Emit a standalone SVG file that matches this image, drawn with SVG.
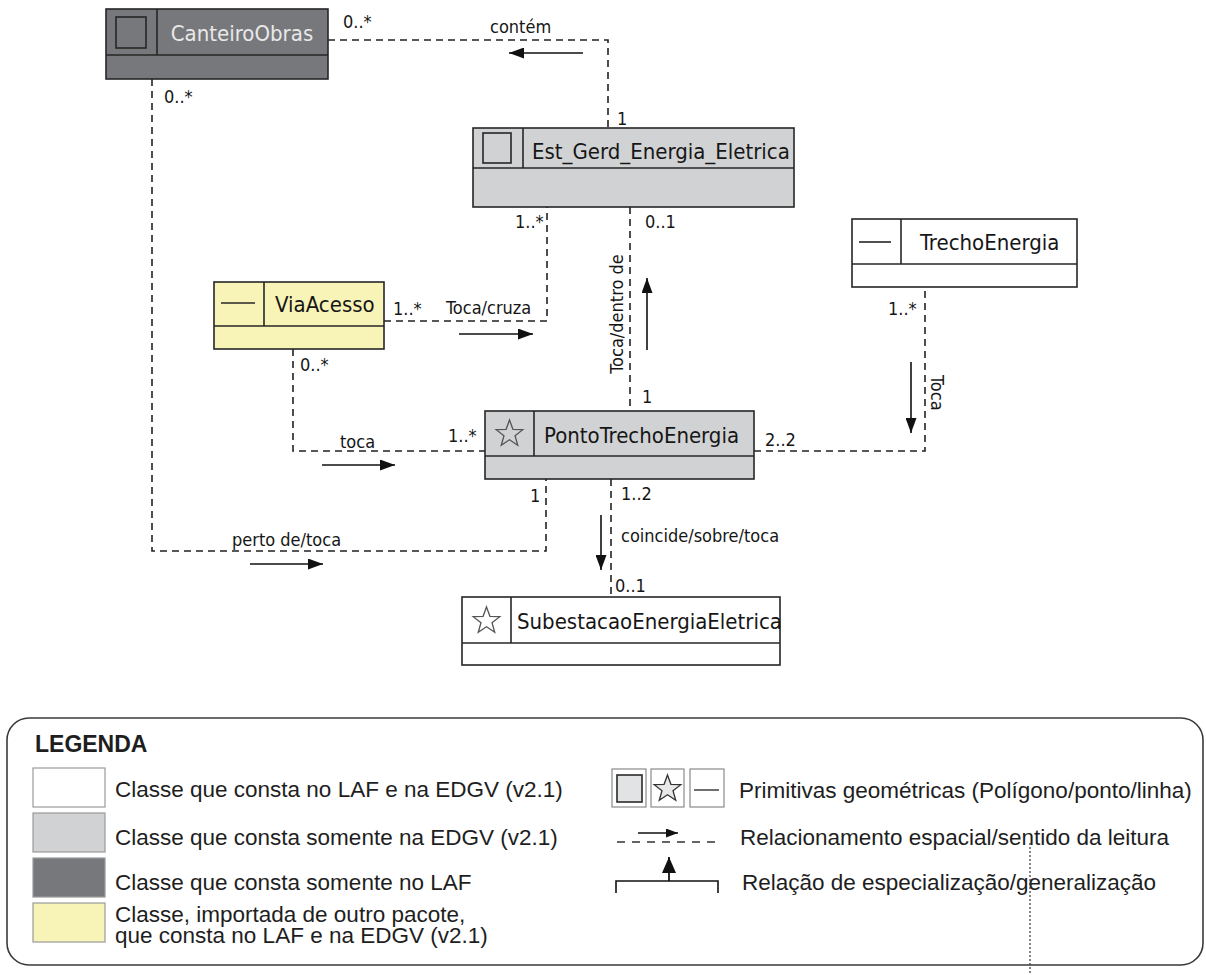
<svg xmlns="http://www.w3.org/2000/svg" width="1206" height="975" viewBox="0 0 1206 975">
<style>
  .box{stroke:#262626;stroke-width:1.6}
  .dark{fill:#77787b}
  .light{fill:#d1d2d4}
  .white{fill:#ffffff}
  .yellow{fill:#f8f4b8}
  .name{font-family:'DejaVu Sans Condensed','DejaVu Sans',sans-serif;font-stretch:condensed;font-size:22px;fill:#161616}
  .lbl{font-family:'DejaVu Sans Condensed','DejaVu Sans',sans-serif;font-stretch:condensed;font-size:18px;fill:#161616}
  .dash{fill:none;stroke:#222;stroke-width:1.6;stroke-dasharray:7 5}
  .rd{fill:none;stroke:#111;stroke-width:1.6;marker-end:url(#ah)}
  .icon{fill:none;stroke:#262626;stroke-width:1.6}
  .star{fill:none;stroke:#555;stroke-width:1.3}
  .leg{font-family:'Liberation Sans',Arial,sans-serif;font-size:22.5px;fill:#1e1e1e}
  .sw{stroke:#9a9a9a;stroke-width:1.2}
</style>
<defs>
  <marker id="ah" viewBox="0 0 15 11" refX="15" refY="5.5" markerWidth="15" markerHeight="11" markerUnits="userSpaceOnUse" orient="auto">
    <path d="M0,0 L15,5.5 L0,11 Z" fill="#111"/>
  </marker>
  <marker id="ahs" viewBox="0 0 12 9" refX="12" refY="4.5" markerWidth="12" markerHeight="9" markerUnits="userSpaceOnUse" orient="auto">
    <path d="M0,0 L12,4.5 L0,9 Z" fill="#111"/>
  </marker>
  <marker id="ahg" viewBox="0 0 16 14" refX="16" refY="7" markerWidth="16" markerHeight="14" markerUnits="userSpaceOnUse" orient="auto">
    <path d="M0,0 L16,7 L0,14 Z" fill="#111"/>
  </marker>
  <path id="star" d="M0,-14 L3.41,-4.69 L13.31,-4.33 L5.52,1.79 L8.23,11.33 L0,5.8 L-8.23,11.33 L-5.52,1.79 L-13.31,-4.33 L-3.41,-4.69 Z"/>
</defs>

<g id="connectors">
  <path class="dash" d="M328,40 H608 V128"/>
  <path class="dash" d="M152,79 V551 H546 V479"/>
  <path class="dash" d="M384,321 H547 V207"/>
  <path class="dash" d="M293,349 V451 H485"/>
  <path class="dash" d="M630,207 V411"/>
  <path class="dash" d="M754,451 H925 V287"/>
  <path class="dash" d="M611,479 V597"/>
  <line class="rd" x1="583" y1="53" x2="509" y2="53"/>
  <line class="rd" x1="459" y1="334" x2="533" y2="334"/>
  <line class="rd" x1="322" y1="465" x2="395" y2="465"/>
  <line class="rd" x1="250" y1="564" x2="323" y2="564"/>
  <line class="rd" x1="601" y1="515" x2="601" y2="570"/>
  <line class="rd" x1="911" y1="362" x2="911" y2="433"/>
  <line class="rd" x1="647" y1="350" x2="647" y2="278"/>
  <text class="lbl" x="343" y="28">0..*</text>
  <text class="lbl" x="490" y="33">contém</text>
  <text class="lbl" x="617" y="125">1</text>
  <text class="lbl" x="164" y="103">0..*</text>
  <text class="lbl" x="232" y="546">perto de/toca</text>
  <text class="lbl" x="530" y="502">1</text>
  <text class="lbl" x="393" y="315">1..*</text>
  <text class="lbl" x="446" y="314">Toca/cruza</text>
  <text class="lbl" x="515" y="228">1..*</text>
  <text class="lbl" x="300" y="371">0..*</text>
  <text class="lbl" x="340" y="448">toca</text>
  <text class="lbl" x="448" y="442">1..*</text>
  <text class="lbl" x="645" y="228">0..1</text>
  <text class="lbl" x="642" y="403">1</text>
  <text class="lbl" transform="translate(623,314) rotate(-90)" text-anchor="middle">Toca/dentro de</text>
  <text class="lbl" x="765" y="446">2..2</text>
  <text class="lbl" x="888" y="315">1..*</text>
  <text class="lbl" transform="translate(931,375) rotate(90)">Toca</text>
  <text class="lbl" x="621" y="500">1..2</text>
  <text class="lbl" x="621" y="542">coincide/sobre/toca</text>
  <text class="lbl" x="615" y="592">0..1</text>
</g>

<g id="CanteiroObras">
  <rect class="box dark" x="106" y="9" width="222" height="70"/>
  <line class="box" x1="106" y1="55" x2="328" y2="55"/>
  <line class="box" x1="157" y1="9" x2="157" y2="55"/>
  <rect class="icon" x="116" y="17" width="30" height="31"/>
  <text class="name" x="242" y="41" text-anchor="middle" style="fill:#e8e8e8">CanteiroObras</text>
</g>

<g id="Est_Gerd_Energia_Eletrica">
  <rect class="box light" x="473" y="128" width="321" height="79"/>
  <line class="box" x1="473" y1="168" x2="794" y2="168"/>
  <line class="box" x1="523" y1="128" x2="523" y2="168"/>
  <rect class="icon" x="483" y="133" width="28" height="30"/>
  <text class="name" x="532" y="159">Est_Gerd_Energia_Eletrica</text>
</g>

<g id="ViaAcesso">
  <rect class="box yellow" x="214" y="282" width="170" height="67"/>
  <line class="box" x1="214" y1="326" x2="384" y2="326"/>
  <line class="box" x1="264" y1="282" x2="264" y2="326"/>
  <line class="icon" x1="221" y1="303" x2="255" y2="303"/>
  <text class="name" x="275" y="312">ViaAcesso</text>
</g>

<g id="TrechoEnergia">
  <rect class="box white" x="852" y="219" width="225" height="68"/>
  <line class="box" x1="852" y1="264" x2="1077" y2="264"/>
  <line class="box" x1="901" y1="219" x2="901" y2="264"/>
  <line class="icon" x1="859" y1="242" x2="891" y2="242"/>
  <text class="name" x="920" y="250">TrechoEnergia</text>
</g>

<g id="PontoTrechoEnergia">
  <rect class="box light" x="485" y="411" width="269" height="68"/>
  <line class="box" x1="485" y1="456" x2="754" y2="456"/>
  <line class="box" x1="534" y1="411" x2="534" y2="456"/>
  <use href="#star" class="star" transform="translate(509.5,434)"/>
  <text class="name" x="544" y="443">PontoTrechoEnergia</text>
</g>

<g id="SubestacaoEnergiaEletrica">
  <rect class="box white" x="462" y="597" width="318" height="68"/>
  <line class="box" x1="462" y1="643" x2="780" y2="643"/>
  <line class="box" x1="511" y1="597" x2="511" y2="643"/>
  <use href="#star" class="star" transform="translate(486.5,621)"/>
  <text class="name" x="517" y="629">SubestacaoEnergiaEletrica</text>
</g>

<g id="legenda">
  <rect x="7" y="718" width="1196" height="247" rx="22" fill="#ffffff" stroke="#3a3a3a" stroke-width="1.6"/>
  <text x="35" y="752" style="font-family:'Liberation Sans',Arial,sans-serif;font-size:23px;font-weight:bold;fill:#1e1e1e">LEGENDA</text>
  <rect class="sw white" x="33" y="768" width="72" height="39"/>
  <rect class="sw light" x="33" y="813" width="72" height="39"/>
  <rect class="sw dark" x="33" y="858" width="72" height="39"/>
  <rect class="sw yellow" x="33" y="903" width="72" height="39"/>
  <text class="leg" x="115" y="797">Classe que consta no LAF e na EDGV (v2.1)</text>
  <text class="leg" x="115" y="845">Classe que consta somente na EDGV (v2.1)</text>
  <text class="leg" x="115" y="890">Classe que consta somente no LAF</text>
  <text class="leg" x="115" y="922">Classe, importada de outro pacote,</text>
  <text class="leg" x="115" y="943">que consta no LAF e na EDGV (v2.1)</text>

  <rect x="612" y="769" width="34" height="38" fill="#fff" stroke="#8a8a8a" stroke-width="1.2"/>
  <rect x="617" y="775" width="25" height="27" fill="#e2e3e5" stroke="#2a2a2a" stroke-width="1.6"/>
  <rect x="651" y="769" width="33" height="38" fill="#fff" stroke="#8a8a8a" stroke-width="1.2"/>
  <use href="#star" transform="translate(667.5,789)" fill="#e8e8e8" stroke="#333" stroke-width="1.3"/>
  <rect x="690" y="769" width="34" height="38" fill="#fff" stroke="#8a8a8a" stroke-width="1.2"/>
  <line x1="694" y1="790" x2="719" y2="790" stroke="#333" stroke-width="1.4"/>
  <text class="leg" x="739" y="798">Primitivas geométricas (Polígono/ponto/linha)</text>

  <line x1="617" y1="842" x2="717" y2="842" stroke="#333" stroke-width="1.5" stroke-dasharray="8 7"/>
  <line x1="638" y1="833" x2="678" y2="833" stroke="#111" stroke-width="1.5" marker-end="url(#ahs)"/>
  <text class="leg" x="740" y="845">Relacionamento espacial/sentido da leitura</text>

  <path d="M616,893 V881 H718 V893" fill="none" stroke="#111" stroke-width="1.6"/>
  <line x1="669" y1="881" x2="669" y2="857" stroke="#111" stroke-width="1.8" marker-end="url(#ahg)"/>
  <text class="leg" x="742" y="890">Relação de especialização/generalização</text>

  <line x1="1030" y1="843" x2="1030" y2="975" stroke="#333" stroke-width="1.2" stroke-dasharray="2 2"/>
</g>
</svg>
